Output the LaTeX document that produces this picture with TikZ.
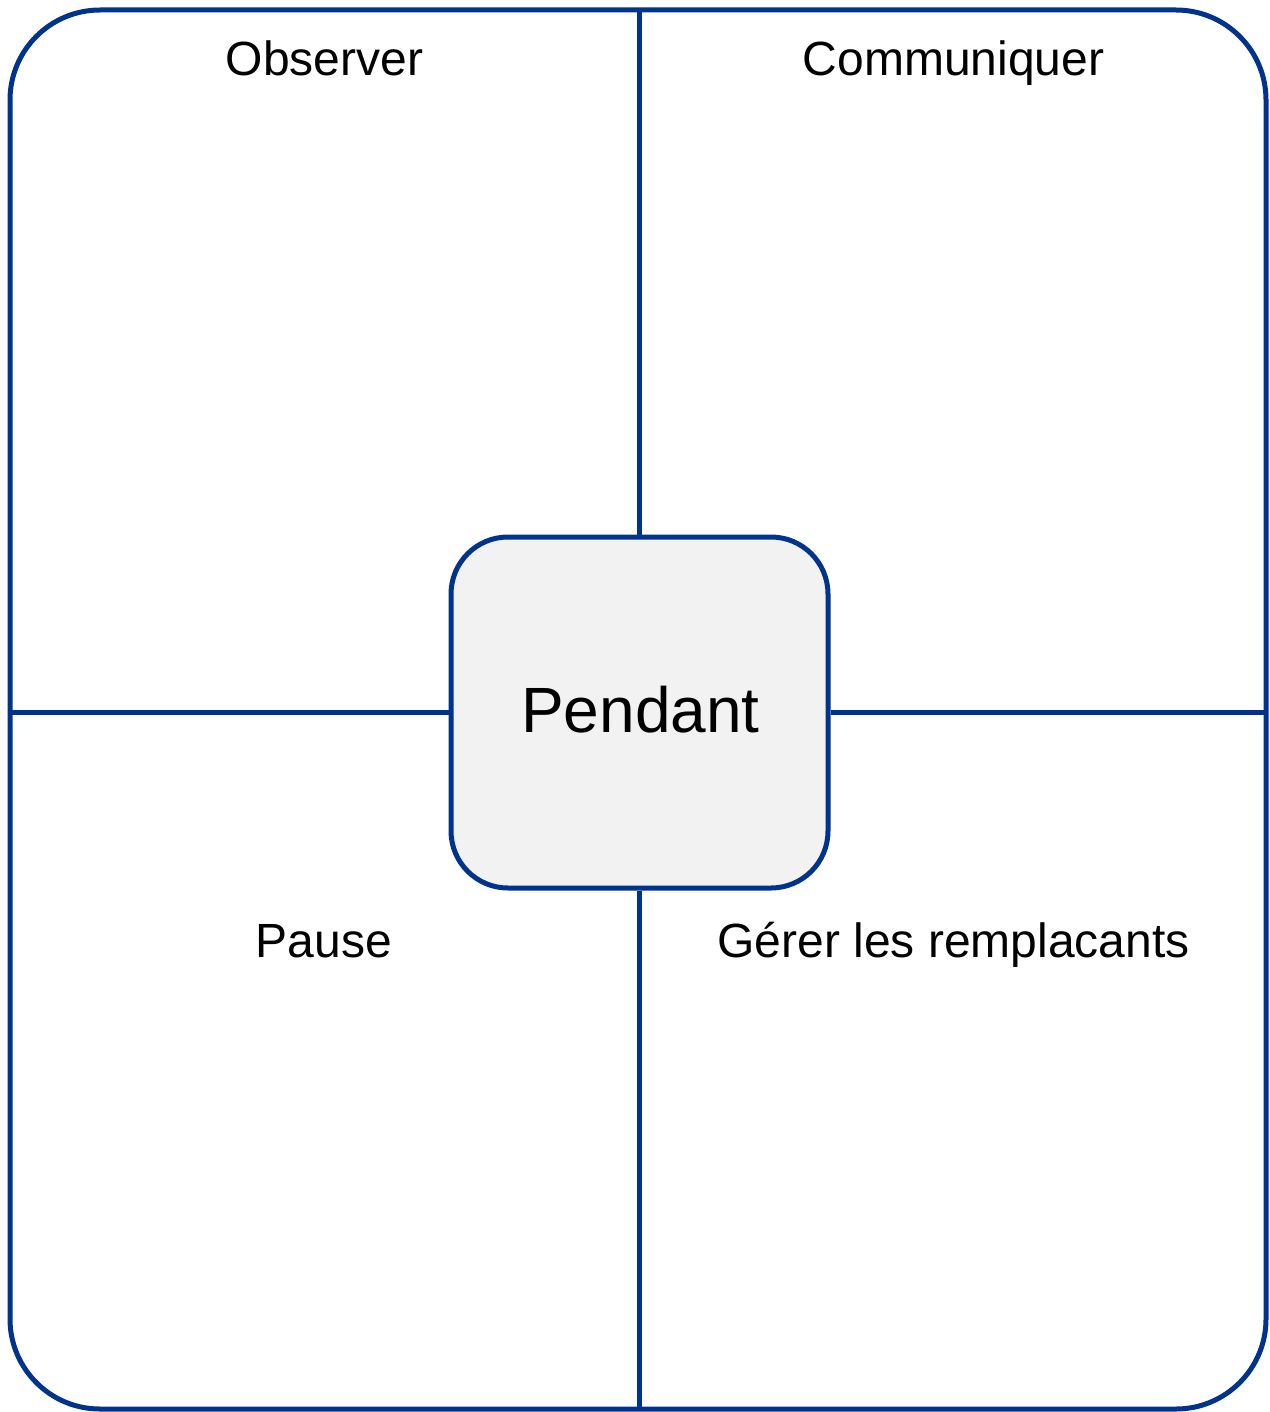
\documentclass[tikz,border=0pt]{standalone}
\usepackage{fontspec}
\setmainfont{Liberation Sans}
\definecolor{navy}{RGB}{0,51,141}
\definecolor{boxfill}{RGB}{242,242,242}
\begin{document}
\begin{tikzpicture}[x=1pt,y=-1pt,
  frame/.style={draw=navy,line width=5pt,rounded corners=90pt,inner sep=0pt,
     minimum width=1256pt,minimum height=1399pt},
  centerbox/.style={draw=navy,fill=boxfill,line width=5pt,rounded corners=57pt,inner sep=0pt,
     minimum width=377pt,minimum height=351pt},
  divider/.style={draw=navy,line width=5pt},
  label/.style={anchor=base,inner sep=0pt,font=\fontsize{48}{57}\selectfont}]
\useasboundingbox (0,0) rectangle (1269,1412);
\node[frame] (frame) at (638,709.5) {};
\node[centerbox] (center) at (639.5,712.5) {};
\node[anchor=base,inner sep=0pt,font=\fontsize{64}{76}\selectfont] (pendant) at (640.5,732) {Pendant};
\coordinate (ftop) at (639,10);
\coordinate (fbot) at (639,1409);
\coordinate (fleft) at (10,712);
\coordinate (fright) at (1266,712);
\draw[divider] (ftop) -- (ftop |- center.north);
\draw[divider] (fbot) -- (fbot |- center.south);
\draw[divider] (fleft) -- (fleft -| center.west);
\draw[divider] (fright) -- (fright -| center.east);
\node[label] (obs) at (324.5,76) {Observer};
\node[label] (com) at (953.5,76) {Communiquer};
\node[label] (pause) at (324,957) {Pause};
\node[label] (gerer) at (953.5,957) {Gérer les remplacants};
\end{tikzpicture}
\end{document}
